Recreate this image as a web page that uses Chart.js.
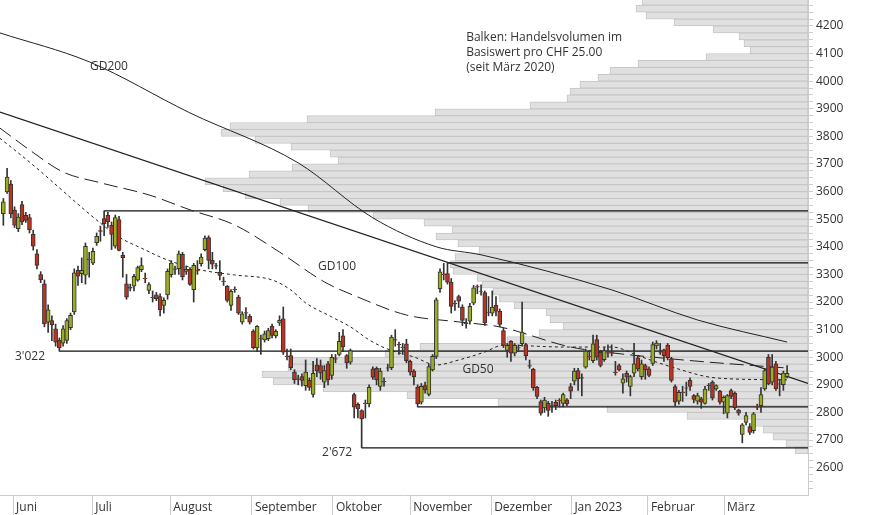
<!DOCTYPE html>
<html>
<head>
<meta charset="utf-8">
<script src="https://cdn.jsdelivr.net/npm/chart.js@4/dist/chart.umd.min.js"></script>
<style>
  html, body { margin: 0; padding: 0; background: #fff; }
  #wrap { width: 874px; height: 515px; position: relative; }
</style>
</head>
<body>
<div id="wrap"><canvas id="chart"></canvas></div>
<script>
// daily candles, index 0 = end of May 2022
var opens  = [3520,3599,3627,3533,3466,3553,3514,3506,3445,3375,3299,3266,3127,3133,3103,3061,3051,3061,3107,3164,3315,3303,3297,3356,3341,3415,3459,3502,3514,3478,3402,3499,3369,3266,3253,3257,3279,3317,3286,3242,3217,3226,3220,3188,3226,3299,3320,3321,3373,3311,3318,3245,3315,3339,3390,3433,3351,3332,3308,3276,3257,3188,3246,3218,3127,3162,3148,3095,3034,3068,3063,3067,3113,3077,3124,
  3139,3004,3006,2946,2922,2930,2897,2916,2865,2972,2970,2910,2976,2934,2995,3010,3078,3006,2982,2865,2829,2807,2834,2831,2958,2960,2894,2913,2962,2962,3064,3047,3037,3049,2985,2950,2891,2837,2897,2865,2954,3003,3248,3301,3303,3272,3195,3220,3182,3124,3131,3196,3256,3240,3234,3164,3160,3188,3166,3097,3025,3058,3015,3035,3049,3046,2970,2956,2891,
  2839,2816,2833,2825,2837,2844,2833,2846,2894,2913,2952,2926,2964,3003,2988,3064,3018,2991,3017,3017,2946,2970,2906,2942,2894,2942,2998,2930,2970,2958,2978,3041,3019,3027,3043,2994,2894,2841,2874,2889,2916,2861,2841,2849,2833,2898,2910,2885,2877,2837,2797,2879,2870,2809,2720,2764,2749,2734,2822,2825,2885,3000,2910,2976,2904,2901,2930];
var highs  = [3575,3684,3640,3545,3520,3565,3525,3518,3460,3390,3310,3280,3190,3150,3120,3070,3115,3140,3160,3320,3330,3360,3414,3380,3395,3450,3475,3530,3525,3490,3515,3510,3380,3300,3265,3300,3330,3360,3305,3270,3240,3235,3230,3215,3320,3350,3330,3385,3380,3330,3325,3340,3350,3375,3440,3440,3380,3340,3350,3290,3260,3245,3255,3225,3165,3180,3155,3100,3115,3080,3095,3105,3120,3100,3150,
  3182,3030,3030,2955,2935,2940,2990,2925,2985,2995,2990,2970,2985,3010,3010,3090,3100,3010,3030,2870,2835,2810,2845,2900,2965,2965,2960,2925,2975,3080,3100,3055,3050,3065,2990,2955,2900,2905,2910,2975,3010,3215,3320,3340,3342,3285,3205,3225,3190,3140,3195,3260,3262,3262,3240,3220,3240,3220,3175,3105,3050,3060,3050,3045,3200,3050,2990,2960,2895,
  2845,2855,2840,2840,2845,2850,2870,2850,2905,2960,2960,2940,3030,3025,3080,3080,3025,3035,3045,3045,2985,2975,2940,2950,2935,3050,3005,2990,2975,2965,3055,3060,3050,3030,3050,3000,2900,2880,2895,2910,2925,2865,2870,2855,2895,2905,2915,2900,2880,2860,2865,2885,2875,2812,2760,2800,2760,2800,2830,2890,2960,3010,3010,2985,2920,2950,2970];
var lows   = [3478,3593,3505,3470,3455,3480,3488,3450,3388,3320,3270,3110,3090,3060,3040,3022,3040,3050,3100,3155,3260,3270,3265,3290,3335,3405,3420,3440,3470,3390,3395,3385,3290,3210,3240,3240,3275,3310,3270,3230,3200,3205,3150,3160,3210,3290,3300,3300,3280,3300,3260,3200,3300,3330,3385,3320,3320,3320,3280,3260,3200,3170,3235,3155,3120,3140,3120,3030,3020,3010,3055,3060,3070,3070,3115,
  3010,2990,2955,2905,2900,2895,2880,2880,2855,2930,2920,2890,2900,2920,2980,3005,3020,2960,2975,2780,2780,2672,2780,2820,2920,2900,2880,2895,2950,2955,3040,3010,3010,2980,2935,2900,2820,2830,2870,2860,2950,2995,3235,3280,3265,3160,3170,3180,3115,3105,3120,3190,3230,3225,3115,3150,3150,3150,3110,3035,3000,2985,3005,3020,3040,2990,2960,2880,2850,
  2790,2800,2786,2800,2810,2820,2820,2825,2850,2900,2880,2860,2960,2990,2980,2990,2965,2985,3000,3005,2935,2950,2870,2910,2860,2930,2950,2920,2920,2930,2970,3030,3010,2985,2990,2910,2825,2830,2840,2860,2880,2835,2830,2815,2830,2880,2845,2880,2830,2795,2780,2850,2810,2790,2690,2755,2720,2725,2810,2800,2880,2900,2900,2880,2860,2880,2925];
var closes = [3563,3653,3520,3478,3508,3490,3496,3462,3402,3333,3281,3121,3172,3118,3055,3034,3103,3133,3152,3306,3294,3315,3402,3353,3384,3438,3456,3484,3490,3445,3506,3387,3361,3218,3250,3293,3325,3332,3284,3263,3215,3212,3172,3206,3311,3341,3318,3375,3291,3318,3264,3333,3313,3363,3432,3351,3337,3330,3296,3274,3206,3239,3244,3160,3157,3160,3127,3034,3112,3066,3085,3097,3079,3094,3134,
  3018,3002,2962,2918,2920,2916,2946,2891,2942,2950,2942,2952,2918,3000,2993,3058,3037,2979,3024,2819,2813,2777,2832,2891,2928,2918,2950,2911,2960,3073,3062,3045,3035,2988,2946,2930,2831,2895,2882,2966,3003,3208,3309,3299,3272,3184,3193,3203,3133,3122,3184,3251,3254,3238,3124,3162,3182,3167,3119,3043,3043,3015,3043,3033,3091,3006,2968,2889,2858,
  2797,2845,2807,2823,2825,2842,2865,2831,2877,2950,2922,2924,3022,3001,3049,3000,2970,3024,3015,3015,2944,2954,2922,2928,2930,2976,2958,2976,2954,2934,3046,3051,3018,3006,2998,2916,2837,2873,2872,2888,2894,2847,2861,2837,2885,2897,2853,2897,2837,2855,2861,2858,2817,2797,2755,2789,2728,2795,2820,2865,2952,2903,2964,2885,2902,2943,2942];

// moving averages, sampled along the curves (x = candle index)
var gd200X = [-1,23,50,79,99,116,128,163,186,210];
var gd200Y = [4175,4070,3885,3704,3505,3400,3371,3244,3135,3055];
var gd100X = [-1,7,16,26,39,50,62,74,86,95,108,122,133,152,163,179,192,210];
var gd100Y = [3831,3751,3671,3632,3588,3534,3479,3381,3273,3218,3153,3128,3110,3037,3016,2994,2979,2961];
var gd50X  = [-1,7,26,31,37,44,53,62,72,77,81,88,93,98,102,106,110,116,122,129,134,150,163,171,179,191,210];
var gd50Y  = [3794,3707,3486,3435,3395,3352,3316,3298,3280,3244,3197,3146,3110,3063,3035,3016,3001,2972,2990,3019,3044,3037,3037,3001,2965,2925,2918];

// support / resistance lines: start index and level
var levelStart = [27,119,15,111,96];
var levelValue = [3530,3342,3022,2820,2672];
var trendValues = [3888,2905];

// volume profile: lower bound of each CHF 25 bin and its (relative) volume
var binLow = [4275,4250,4225,4200,4175,4150,4125,4100,4075,4050,4025,4000,3975,3950,3925,3900,3875,3850,3825,3800,3775,3750,3725,3700,3675,3650,3625,3600,3575,3550,3525,3500,3475,3450,3425,3400,3375,3350,3325,3300,3275,3250,3225,3200,3175,3150,3125,3100,3075,3050,3025,3000,2975,2950,2925,2900,2875,2850,2825,2800,2775,2750,2725,2700,2675,2650];
var binVol = [166,172,162,134,95,69,64,58,102,170,198,210,228,238,241,278,373,501,578,587,553,517,478,470,516,559,603,585,563,528,500,435,384,356,372,350,329,353,358,355,331,326,315,309,294,262,258,245,269,301,388,423,518,520,546,535,485,401,310,201,121,53,45,35,22,13];

var monthPos = [2.6,23.8,44.7,66.6,88.3,109,130.7,152.2,172.7,193.1];
var monthNames = ["Juni","Juli","August","September","Oktober","November","Dezember","Jan 2023","Februar","März"];
var yTicks = [2600,2700,2800,2900,3000,3100,3200,3300,3400,3500,3600,3700,3800,3900,4000,4100,4200];

var notes = [
  { text: "GD200", x: 23.2, y: 4052 },
  { text: "GD100", x: 84.3, y: 3327 },
  { text: "GD50", x: 123, y: 2954 },
  { text: "3'022", x: 3.1, y: 3001 },
  { text: "2'672", x: 85.4, y: 2653 },
  { text: "Balken: Handelsvolumen im", x: 124, y: 4157 },
  { text: "Basiswert pro CHF 25.00", x: 124, y: 4103 },
  { text: "(seit März 2020)", x: 124, y: 4048 }
];

var XMIN = -0.9, XMAX = 215.6;
var FONT = "12px 'Open Sans', sans-serif";

function pts(xs, ys) {
  return xs.map(function (x, i) { return { x: x, y: ys[i] }; });
}

var bodies = [], wicks = [], bodyColors = [];
for (var i = 0; i < closes.length; i++) {
  bodies.push({ x: i, y: [opens[i], closes[i]] });
  wicks.push({ x: i, y: [lows[i], highs[i]] });
  bodyColors.push(closes[i] >= opens[i] ? "#9cae1e" : "#bb3322");
}

var datasets = [];

datasets.push({
  type: "bar", indexAxis: "y", xAxisID: "xv", yAxisID: "y",
  data: binLow.map(function (p, i) { return { x: binVol[i], y: p + 12.5 }; }),
  backgroundColor: "#e0e0e0", borderColor: "#c6c6c6", borderWidth: 1,
  borderSkipped: false, barThickness: 7, grouped: false, order: 10
});

datasets.push({
  type: "line", data: pts(gd200X, gd200Y), borderColor: "#222", borderWidth: 1,
  pointRadius: 0, cubicInterpolationMode: "monotone", order: 5
});
datasets.push({
  type: "line", data: pts(gd100X, gd100Y), borderColor: "#222", borderWidth: 1,
  borderDash: [14, 6], pointRadius: 0, cubicInterpolationMode: "monotone", order: 5
});
datasets.push({
  type: "line", data: pts(gd50X, gd50Y), borderColor: "#222", borderWidth: 1,
  borderDash: [3, 3], pointRadius: 0, cubicInterpolationMode: "monotone", order: 5
});
datasets.push({
  type: "line", data: [{ x: XMIN, y: trendValues[0] }, { x: XMAX, y: trendValues[1] }],
  borderColor: "#222", borderWidth: 1.2, pointRadius: 0, order: 5
});
levelStart.forEach(function (s, k) {
  datasets.push({
    type: "line", data: [{ x: s, y: levelValue[k] }, { x: XMAX, y: levelValue[k] }],
    borderColor: "#111", borderWidth: 1.3, pointRadius: 0, order: 5
  });
});

datasets.push({
  type: "bar", data: wicks, backgroundColor: "#333", barThickness: 1,
  grouped: false, order: 3
});
datasets.push({
  type: "bar", data: bodies, backgroundColor: bodyColors, borderColor: "#333",
  borderWidth: 1, borderSkipped: false, barThickness: 4, grouped: false, order: 2
});

// text labels: annotations plus axis labels (placed via the scales)
var textPlugin = {
  id: "texts",
  afterDraw: function (chart) {
    var ctx = chart.ctx, xs = chart.scales.x, ys = chart.scales.y;
    ctx.save();
    ctx.fillStyle = "#333";
    ctx.font = FONT;
    ctx.textAlign = "left";
    ctx.textBaseline = "middle";
    notes.forEach(function (n) {
      ctx.fillText(n.text, xs.getPixelForValue(n.x), ys.getPixelForValue(n.y));
    });
    monthPos.forEach(function (m, k) {
      ctx.fillText(monthNames[k], xs.getPixelForValue(m) + 3, xs.bottom - 7);
    });
    yTicks.forEach(function (v) {
      ctx.fillText(String(v), ys.left + 8, ys.getPixelForValue(v));
    });
    ctx.restore();
  }
};

new Chart(document.getElementById("chart"), {
  type: "bar",
  data: { datasets: datasets },
  plugins: [textPlugin],
  options: {
    responsive: true, maintainAspectRatio: false, animation: false,
    layout: { padding: 0 },
    plugins: { legend: { display: false }, tooltip: { enabled: false } },
    scales: {
      x: {
        type: "linear", min: XMIN, max: XMAX, position: "bottom", offset: false,
        afterBuildTicks: function (s) { s.ticks = monthPos.map(function (v) { return { value: v }; }); },
        afterFit: function (s) { s.height = 20; },
        grid: { drawOnChartArea: false, tickLength: 20, color: "#cccccc", offset: false },
        border: { color: "#cccccc" },
        ticks: { display: false }
      },
      xv: { type: "linear", min: 0, max: 808, reverse: true, display: false, offset: false },
      y: {
        type: "linear", position: "right", min: 2501, max: 4294, offset: false,
        afterBuildTicks: function (s) {
          var t = [];
          for (var v = 2525; v <= 4275; v += 25) t.push({ value: v });
          s.ticks = t;
        },
        afterFit: function (s) { s.width = 66; },
        grid: { drawOnChartArea: false, tickLength: 5, color: "#cccccc", offset: false },
        border: { color: "#cccccc" },
        ticks: { display: false }
      }
    }
  }
});
</script>
</body>
</html>
